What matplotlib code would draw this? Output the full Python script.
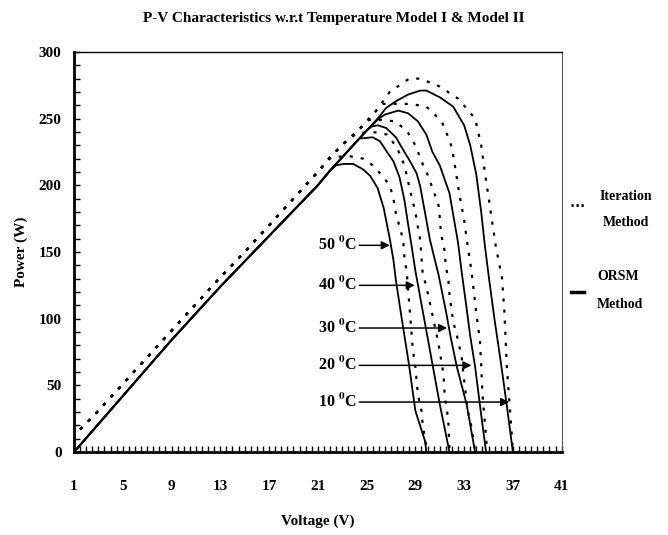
import numpy as np
import matplotlib
matplotlib.use("Agg")
import matplotlib.pyplot as plt
from matplotlib.lines import Line2D

plt.rcParams['font.family'] = ['Liberation Serif', 'DejaVu Serif']
plt.rcParams['font.weight'] = 'bold'
plt.rcParams['mathtext.fontset'] = 'stix'

# common rising part of the P-V curves
rise_v = [1, 3, 5, 7, 9, 11, 13, 15, 17, 19, 21]
rise_orsm = [0, 21, 42, 63, 84, 104, 124, 143, 162, 181, 200]
iter_rise_v = [1.5, 3, 5, 7, 9, 11, 13, 15, 17, 19, 21]
iter_rise_p = [17, 31, 51, 71, 91, 111, 131, 150, 170, 190, 210]

# ORSM method (solid) tails
orsm_10_v = [22, 23, 24, 25, 26, 26.6, 27.4, 28.4, 29.4, 29.9, 31, 32.1, 33, 33.5, 34, 34.4, 34.7, 35, 35.5, 36, 36.5, 37]
orsm_10_p = [211, 221, 231, 241, 251, 258, 263, 268, 271, 271, 266, 259, 245, 230, 208, 180, 155, 133, 99, 68, 35, 0]
orsm_20_v = [22, 23, 24, 25, 26, 26.5, 27.6, 28.4, 29.2, 29.9, 30.4, 31, 31.8, 32.5, 32.8, 33.2, 33.5, 33.9, 34.3, 34.8]
orsm_20_p = [211, 221, 231, 241, 250, 253, 256, 254, 248, 238, 225, 215, 194, 157, 135, 108, 87, 64, 35, 0]
orsm_30_v = [22, 23, 24, 25, 25.4, 25.9, 26.6, 27.4, 28.1, 28.5, 29.1, 29.4, 29.8, 30.2, 30.6, 30.9, 31.5, 31.9, 32.4, 33.2, 33.9]
orsm_30_p = [211, 221, 231, 241, 244, 245, 243, 236, 225, 219, 209, 199, 179, 159, 144, 133, 106, 86, 64, 36, 0]
orsm_40_v = [22, 23, 24, 24.4, 25.5, 26.1, 26.6, 27.2, 27.7, 28.1, 28.4, 28.7, 29, 29.5, 30, 30.4, 31, 31.8]
orsm_40_p = [211, 221, 231, 235, 236, 233, 226, 218, 206, 189, 171, 154, 136, 111, 86, 66, 36, 0]
orsm_50_v = [22, 22.5, 23.1, 23.9, 24.7, 25.3, 25.9, 26.4, 26.9, 27.2, 27.4, 27.9, 28.3, 28.5, 29, 29.8, 29.9]
orsm_50_p = [211, 215, 216, 216, 212, 207, 198, 183, 160, 144, 129, 99, 76, 64, 31, 8, 0]

# Iteration method (dotted) tails
iter_10_v = [22.1, 23.2, 24.3, 25.8, 26.9, 28.5, 29.4, 31, 32.5, 33.9, 34.4, 34.7, 35.1, 35.6, 36.1, 36.3, 36.5, 36.8, 37]
iter_10_p = [222, 232, 241, 256, 270, 280, 280, 274, 265, 250, 230, 210, 185, 154, 131, 106, 64, 27, 0]
iter_20_v = [22.1, 23.2, 24.3, 25.8, 26.3, 27.3, 28.6, 29.9, 30.6, 31.2, 31.7, 32, 32.2, 32.6, 33, 33.3, 33.6, 34, 34.3, 34.4, 34.5, 34.7, 34.9]
iter_20_p = [222, 232, 241, 256, 261, 261, 261, 259, 253, 247, 236, 228, 217, 194, 174, 154, 136, 104, 83, 65, 44, 22, 0]
iter_30_v = [22.1, 23.2, 24.3, 25.2, 26.2, 27.3, 28.3, 29, 29.6, 30, 30.4, 30.9, 31, 31.1, 31.4, 31.5, 31.7, 31.8, 32.1, 32.5, 32.8, 33, 33.3, 33.6, 33.9]
iter_30_p = [222, 232, 241, 249, 249, 248, 241, 230, 216, 208, 198, 185, 176, 164, 151, 139, 130, 118, 98, 84, 71, 54, 31, 19, 0]
iter_40_v = [22.1, 23.2, 24.2, 25.5, 26.7, 27.5, 28.1, 28.4, 28.7, 29, 29.2, 29.4, 29.5, 29.6, 29.9, 30.4, 30.9, 31.1, 31.3, 31.4, 31.7, 31.8]
iter_40_p = [222, 232, 239, 240, 238, 228, 215, 203, 191, 180, 169, 159, 146, 134, 124, 103, 81, 70, 59, 44, 24, 0]
iter_50_v = [22.1, 23.5, 24.7, 25.5, 26.2, 26.9, 27.2, 27.4, 27.7, 28, 28.1, 28.3, 28.5, 28.6, 28.8, 29, 29.2, 29.5, 29.6, 29.8, 30]
iter_50_p = [221, 222, 220, 215, 208, 200, 190, 179, 169, 159, 146, 134, 111, 99, 76, 64, 44, 31, 21, 9, 0]

temps = ['10', '20', '30', '40', '50']
orsm_v = [orsm_10_v, orsm_20_v, orsm_30_v, orsm_40_v, orsm_50_v]
orsm_p = [orsm_10_p, orsm_20_p, orsm_30_p, orsm_40_p, orsm_50_p]
iter_v = [iter_10_v, iter_20_v, iter_30_v, iter_40_v, iter_50_v]
iter_p = [iter_10_p, iter_20_p, iter_30_p, iter_40_p, iter_50_p]

# label height (P) and arrow tip voltage
label_p = [37.5, 65, 93, 125, 155]
arrow_tip_v = [36.7, 33.6, 31.6, 28.95, 26.9]

fig = plt.figure(figsize=(6.68, 5.35), dpi=100)
ax = fig.add_axes([0.1108, 0.155, 0.730, 0.748])

dots = (0, (1.4, 3.6))
for i in range(5):
    ax.plot(rise_v + orsm_v[i], rise_orsm + orsm_p[i], color='black', lw=1.3)
    ax.plot(iter_rise_v + iter_v[i], iter_rise_p + iter_p[i], color='black', lw=1.6, linestyle=dots)

for i in range(5):
    ax.text(21.0, label_p[i], temps[i] + r' $^{\mathbf{0}}$C', fontsize=11.5, fontweight='bold',
            ha='left', va='center')
    ax.annotate('', xy=(arrow_tip_v[i], label_p[i]), xytext=(24.4, label_p[i]),
                arrowprops=dict(arrowstyle='-|>', color='black', lw=1.1, mutation_scale=12,
                                shrinkA=0, shrinkB=0))

ax.set_xlim(1, 41)
ax.set_ylim(0, 300)
ax.set_xticks(np.arange(1, 42, 4))
ax.set_xticks(np.arange(1, 41.01, 0.5), minor=True)
ax.set_yticks(np.arange(0, 301, 50))
ax.set_yticks(np.arange(0, 301, 10), minor=True)
ax.tick_params(axis='both', which='both', direction='in', width=1, labelsize=11)
ax.tick_params(axis='both', which='major', length=4)
ax.tick_params(axis='both', which='minor', length=4)
ax.tick_params(axis='x', which='both', pad=20)
ax.tick_params(axis='y', which='both', pad=9)
for lab in ax.get_xticklabels() + ax.get_yticklabels():
    lab.set_fontweight('bold')

ax.spines['left'].set_linewidth(2)
ax.spines['bottom'].set_linewidth(2)
ax.spines['top'].set_linewidth(1)
ax.spines['right'].set_linewidth(0.8)
ax.spines['right'].set_color('#555555')

ax.set_xlabel('Voltage (V)', fontsize=11, fontweight='bold')
ax.xaxis.set_label_coords(0.5, -0.155)
ax.set_ylabel('Power (W)', fontsize=11, fontweight='bold')
ax.yaxis.set_label_coords(-0.095, 0.5)
fig.text(0.5, 0.966, 'P-V Characteristics w.r.t Temperature Model I & Model II',
         ha='center', va='center', fontsize=11, fontweight='bold')

# legend drawn outside the axes
fig.add_artist(Line2D([571 / 668, 585 / 668], [1 - 205 / 535, 1 - 205 / 535],
                      color='black', lw=2, linestyle=(0, (0.8, 1.0))))
fig.text(626 / 668, 1 - 196 / 535, 'Iteration', ha='center', va='center', fontsize=10, fontweight='bold')
fig.text(626 / 668, 1 - 222 / 535, 'Method', ha='center', va='center', fontsize=10, fontweight='bold')
fig.add_artist(Line2D([571 / 668, 584 / 668], [1 - 292 / 535, 1 - 292 / 535],
                      color='black', lw=2.5))
fig.text(597 / 668, 1 - 277 / 535, 'ORSM', ha='left', va='center', fontsize=10, fontweight='bold')
fig.text(597 / 668, 1 - 305 / 535, 'Method', ha='left', va='center', fontsize=10, fontweight='bold')

fig.savefig('out.png', dpi=100)
